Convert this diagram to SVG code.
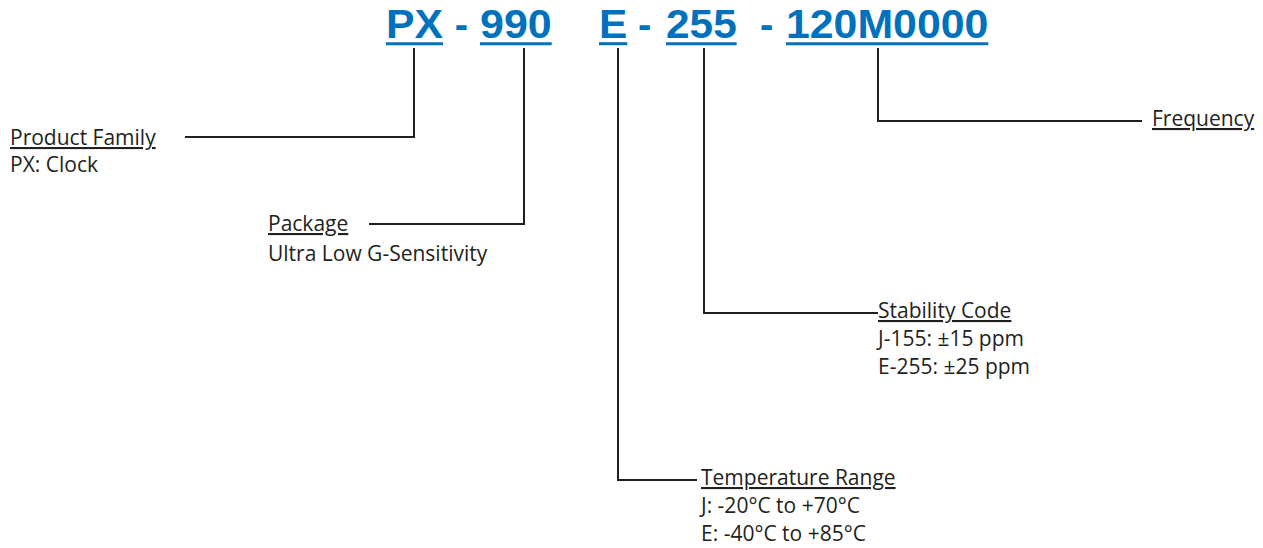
<svg xmlns="http://www.w3.org/2000/svg" width="1263" height="548" viewBox="0 0 1263 548">
  <style>
    .code { font-family: "Liberation Sans", Arial, sans-serif; font-weight: bold; font-size: 40px; fill: #0071BC; }
    .uline { stroke: #0071BC; stroke-width: 3; fill: none; }
    .conn { stroke: #231F20; stroke-width: 2; fill: none; }
    .lbl { font-family: "Open Sans", "Noto Sans", sans-serif; font-size: 21px; fill: #231F20; }
    .head { text-decoration: underline; }
  </style>
  <rect width="1263" height="548" fill="#FFFFFF"/>
  <g id="code">
    <text class="code" x="386" y="38" textLength="57" lengthAdjust="spacingAndGlyphs">PX</text>
    <text class="code" x="461.3" y="38" text-anchor="middle">-</text>
    <text class="code" x="480" y="38" textLength="71.7" lengthAdjust="spacingAndGlyphs">990</text>
    <text class="code" x="599" y="38" textLength="28.3" lengthAdjust="spacingAndGlyphs">E</text>
    <text class="code" x="644.7" y="38" text-anchor="middle">-</text>
    <text class="code" x="666" y="38" textLength="70.7" lengthAdjust="spacingAndGlyphs">255</text>
    <text class="code" x="766.7" y="38" text-anchor="middle">-</text>
    <text class="code" x="786" y="38" textLength="202.3" lengthAdjust="spacingAndGlyphs">120M0000</text>
    <line class="uline" x1="386" y1="43.7" x2="443" y2="43.7"/>
    <line class="uline" x1="480" y1="43.7" x2="551.7" y2="43.7"/>
    <line class="uline" x1="599" y1="43.7" x2="627.3" y2="43.7"/>
    <line class="uline" x1="666" y1="43.7" x2="736.7" y2="43.7"/>
    <line class="uline" x1="786" y1="43.7" x2="988.3" y2="43.7"/>
  </g>
  <g id="connectors">
    <path class="conn" d="M414,48 V137 H185"/>
    <path class="conn" d="M524,48 V224 H369"/>
    <path class="conn" d="M618,48 V480 H697"/>
    <path class="conn" d="M704,48 V313 H878"/>
    <path class="conn" d="M878,48 V121 H1142"/>
  </g>
  <g id="product-family">
    <text class="lbl head" x="10" y="145">Product Family</text>
    <text class="lbl" x="10" y="172">PX: Clock</text>
  </g>
  <g id="package">
    <text class="lbl head" x="268" y="231">Package</text>
    <text class="lbl" x="268" y="261">Ultra Low G-Sensitivity</text>
  </g>
  <g id="stability-code">
    <text class="lbl head" x="878" y="318">Stability Code</text>
    <text class="lbl" x="878" y="346">J-155: ±15 ppm</text>
    <text class="lbl" x="878" y="374">E-255: ±25 ppm</text>
  </g>
  <g id="temperature-range">
    <text class="lbl head" x="701" y="485">Temperature Range</text>
    <text class="lbl" x="701" y="513">J: -20°C to +70°C</text>
    <text class="lbl" x="701" y="541">E: -40°C to +85°C</text>
  </g>
  <g id="frequency">
    <text class="lbl head" x="1152" y="126">Frequency</text>
  </g>
</svg>
